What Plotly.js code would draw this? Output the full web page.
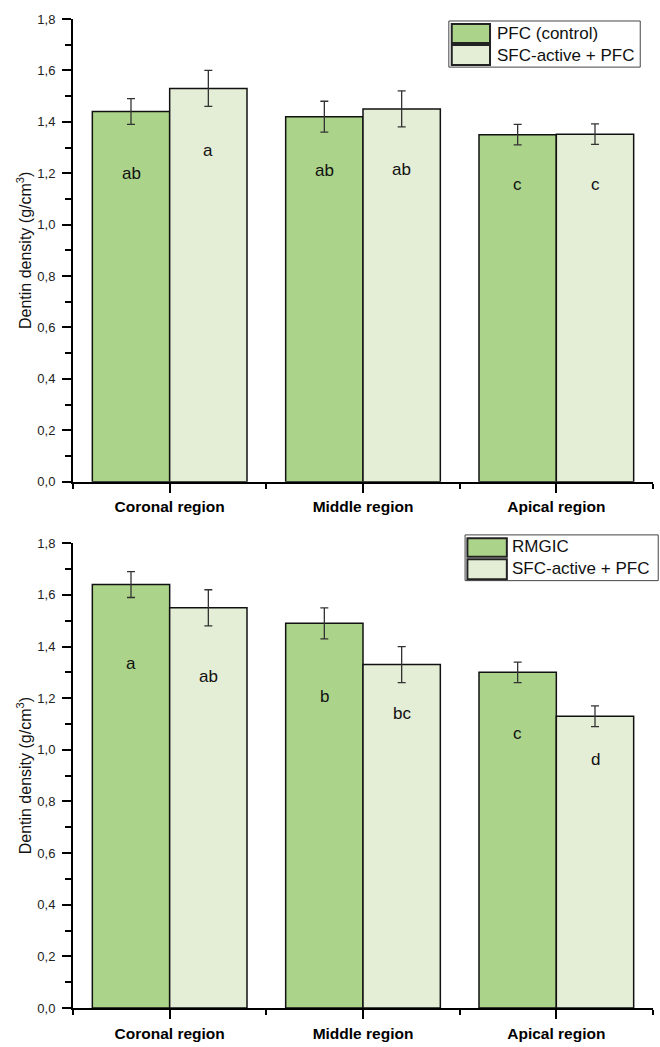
<!DOCTYPE html>
<html>
<head>
<meta charset="utf-8">
<script src="https://cdn.plot.ly/plotly-3.0.1.min.js"></script>
<style>html,body{margin:0;padding:0;background:#fff}#chart{width:660px;height:1047px}</style>
</head>
<body>
<div id="chart"></div>
<script>
// ---- data ----
const categories = ["Coronal region", "Middle region", "Apical region"];

// top chart
const topSeriesNames = ["PFC (control)", "SFC-active + PFC"];
const topPFC = [1.44, 1.42, 1.35];
const topPFCerr = [0.05, 0.06, 0.04];
const topSFC = [1.53, 1.45, 1.352];
const topSFCerr = [0.07, 0.07, 0.04];
const topPFCletters = ["ab", "ab", "c"];
const topSFCletters = ["a", "ab", "c"];
const topPFCletterY = [1.2, 1.212, 1.158];
const topSFCletterY = [1.288, 1.216, 1.157];

// bottom chart
const botSeriesNames = ["RMGIC", "SFC-active + PFC"];
const botRMGIC = [1.64, 1.49, 1.30];
const botRMGICerr = [0.05, 0.06, 0.04];
const botSFC = [1.55, 1.33, 1.13];
const botSFCerr = [0.07, 0.07, 0.04];
const botRMGICletters = ["a", "b", "c"];
const botSFCletters = ["ab", "bc", "d"];
const botRMGICletterY = [1.336, 1.206, 1.062];
const botSFCletterY = [1.284, 1.142, 0.961];

const yTicks = [0, 0.2, 0.4, 0.6, 0.8, 1.0, 1.2, 1.4, 1.6, 1.8];

// ---- style ----
const DARK = "#acd38a";
const LIGHT = "#e4edd6";
const FONT = "Liberation Sans, Arial, sans-serif";
const xIdx = categories.map((c, i) => i);
const groupOffset = 0.2;

function barTrace(name, y, err, color, xa, ya) {
  return {
    type: "bar", name: name, x: xIdx, y: y, xaxis: xa, yaxis: ya,
    marker: {color: color, line: {color: "#111", width: 1.5}},
    error_y: {type: "data", array: err, visible: true, color: "#333", thickness: 1.3, width: 4},
    showlegend: false
  };
}

const data = [
  barTrace(topSeriesNames[0], topPFC, topPFCerr, DARK, "x", "y"),
  barTrace(topSeriesNames[1], topSFC, topSFCerr, LIGHT, "x", "y"),
  barTrace(botSeriesNames[0], botRMGIC, botRMGICerr, DARK, "x2", "y2"),
  barTrace(botSeriesNames[1], botSFC, botSFCerr, LIGHT, "x2", "y2")
];

function xAxis(anchor) {
  return {
    anchor: anchor, domain: [0, 1], range: [-0.5, 2.5],
    tickmode: "array", tickvals: xIdx, ticktext: categories,
    ticks: "outside", ticklen: 9, tickwidth: 2, tickcolor: "#000",
    minor: {tick0: -0.5, dtick: 1, ticks: "outside", ticklen: 5, tickwidth: 2, tickcolor: "#000"},
    showline: true, linecolor: "#000", linewidth: 2,
    showgrid: false, zeroline: false, fixedrange: true,
    tickfont: {family: FONT, size: 15.5, color: "#000", weight: "bold"},
    ticklabelstandoff: 1
  };
}
function yAxis(anchor, domain) {
  return {
    anchor: anchor, domain: domain, range: [0, 1.8],
    tickmode: "array", tickvals: yTicks, tickformat: ".1f",
    ticks: "outside", ticklen: 9, tickwidth: 2, tickcolor: "#000",
    minor: {dtick: 0.1, tick0: 0, ticks: "outside", ticklen: 6, tickwidth: 2, tickcolor: "#000"},
    showline: true, linecolor: "#000", linewidth: 2,
    showgrid: false, zeroline: false, fixedrange: true,
    tickfont: {family: FONT, size: 13, color: "#222"},
    ticklabelstandoff: 4,
    title: {text: "Dentin density (g/cm<sup>3</sup>)", font: {family: FONT, size: 16, color: "#111"}, standoff: 2}
  };
}

const annotations = [];
function addLetters(letters, ys, off, xa, ya) {
  letters.forEach((t, i) => annotations.push({
    x: i + off, y: ys[i], xref: xa, yref: ya, text: t, showarrow: false,
    font: {family: FONT, size: 17, color: "#111"}
  }));
}
addLetters(topPFCletters, topPFCletterY, -groupOffset, "x", "y");
addLetters(topSFCletters, topSFCletterY, groupOffset, "x", "y");
addLetters(botRMGICletters, botRMGICletterY, -groupOffset, "x2", "y2");
addLetters(botSFCletters, botSFCletterY, groupOffset, "x2", "y2");

const shapes = [];
function addLegend(names, xa, ya, box, sw, tx, ty) {
  shapes.push({type: "rect", xref: xa + " domain", yref: ya + " domain",
    x0: box[0], x1: box[1], y0: box[2], y1: box[3],
    line: {color: "#444", width: 1}, fillcolor: "#fff", layer: "above"});
  const cols = [DARK, LIGHT];
  names.forEach((n, k) => {
    shapes.push({type: "rect", xref: xa + " domain", yref: ya + " domain",
      x0: sw[0], x1: sw[1], y0: sw[2 + 2 * k], y1: sw[3 + 2 * k],
      line: {color: "#222", width: 2}, fillcolor: cols[k], layer: "above"});
    annotations.push({xref: xa + " domain", yref: ya + " domain", x: tx, y: ty[k],
      xanchor: "left", yanchor: "middle", text: n, showarrow: false,
      font: {family: FONT, size: 17, color: "#111"}});
  });
}
addLegend(topSeriesNames, "x", "y",
  [0.648, 0.978, 0.896, 0.9957],
  [0.653, 0.719, 0.948, 0.989, 0.9006, 0.944],
  0.727, [0.968, 0.922]);
addLegend(botSeriesNames, "x2", "y2",
  [0.676, 1.009, 0.9196, 1.018],
  [0.680, 0.748, 0.971, 1.011, 0.9226, 0.9656],
  0.754, [0.9936, 0.9447]);

const layout = {
  width: 660, height: 1047,
  margin: {l: 73, r: 7, t: 19, b: 39},
  paper_bgcolor: "#fff", plot_bgcolor: "#fff",
  separators: ",.",
  barmode: "group", bargap: 0.2, bargroupgap: 0,
  showlegend: false,
  xaxis: xAxis("y"),
  yaxis: yAxis("x", [0.5322, 1]),
  xaxis2: xAxis("y2"),
  yaxis2: yAxis("x2", [0, 0.4699]),
  annotations: annotations,
  shapes: shapes,
  font: {family: FONT}
};

Plotly.newPlot("chart", data, layout, {displayModeBar: false, staticPlot: true});
</script>
</body>
</html>
